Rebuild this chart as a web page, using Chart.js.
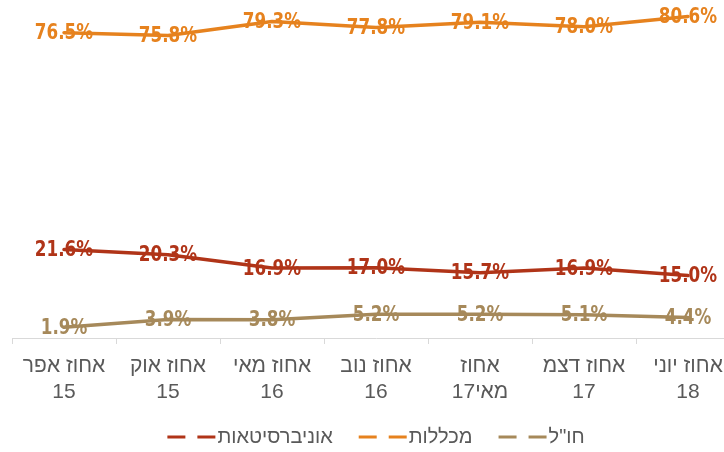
<!DOCTYPE html>
<html lang="he">
<head>
<meta charset="utf-8">
<script src="https://cdn.jsdelivr.net/npm/chart.js@4.4.1/dist/chart.umd.min.js"></script>
<style>
html, body { margin: 0; padding: 0; background: #fff; overflow: hidden; width: 724px; height: 452px; }
canvas { display: block; }
</style>
</head>
<body>
<canvas id="chart" width="744" height="452"></canvas>
<script>
const categories = [
  ['אחוז אפר', '15'],
  ['אחוז אוק', '15'],
  ['אחוז מאי', '16'],
  ['אחוז נוב', '16'],
  ['אחוז', 'מאי17'],
  ['אחוז דצמ', '17'],
  ['אחוז יוני', '18']
];
const seriesNames = ['אוניברסיטאות', 'מכללות', 'חו"ל'];
const universities = [21.6, 20.3, 16.9, 17.0, 15.7, 16.9, 15.0];
const colleges = [76.5, 75.8, 79.3, 77.8, 79.1, 78.0, 80.6];
const abroad = [1.9, 3.9, 3.8, 5.2, 5.2, 5.1, 4.4];
const seriesColors = ['#B03418', '#E6821E', '#A6895A'];

const textGray = '#595959';
const axisGray = '#D9D9D9';

// value labels on top of each point
const valueLabels = {
  id: 'valueLabels',
  afterDatasetsDraw(chart) {
    const ctx = chart.ctx;
    chart.data.datasets.forEach((ds, i) => {
      const meta = chart.getDatasetMeta(i);
      meta.data.forEach((pt, j) => {
        ctx.save();
        ctx.translate(pt.x, pt.y);
        ctx.scale(0.8, 1);
        ctx.font = 'bold 21px "DejaVu Sans"';
        ctx.fillStyle = ds.borderColor;
        ctx.textAlign = 'center';
        ctx.textBaseline = 'middle';
        ctx.fillText(ds.data[j].toFixed(1) + '%', 0, 1);
        ctx.restore();
      });
    });
  }
};

// legend with dashed markers, marker left of text
const dashLegend = {
  id: 'dashLegend',
  afterDraw(chart) {
    const ctx = chart.ctx;
    ctx.save();
    ctx.font = '20px "Liberation Sans"';
    const markW = 48, gapText = 2, gapItem = 26;
    const widths = seriesNames.map(n => ctx.measureText(n).width);
    let total = gapItem * (seriesNames.length - 1);
    widths.forEach(w => total += markW + gapText + w);
    let x = (chart.chartArea.left + chart.chartArea.right) / 2 - total / 2;
    const y = 437;
    seriesNames.forEach((name, i) => {
      ctx.strokeStyle = seriesColors[i];
      ctx.lineWidth = 3;
      ctx.setLineDash([18, 12]);
      ctx.beginPath();
      ctx.moveTo(x, y);
      ctx.lineTo(x + markW, y);
      ctx.stroke();
      ctx.setLineDash([]);
      ctx.fillStyle = textGray;
      ctx.textAlign = 'left';
      ctx.textBaseline = 'middle';
      ctx.fillText(name, x + markW + gapText, y);
      x += markW + gapText + widths[i] + gapItem;
    });
    ctx.restore();
  }
};

function lineSet(label, data, color) {
  return {
    label: label,
    data: data,
    borderColor: color,
    backgroundColor: color,
    borderWidth: 3.5,
    pointRadius: 0,
    tension: 0,
    borderJoinStyle: 'round',
    borderCapStyle: 'round'
  };
}

new Chart(document.getElementById('chart'), {
  type: 'line',
  data: {
    labels: categories,
    datasets: [
      lineSet(seriesNames[0], universities, seriesColors[0]),
      lineSet(seriesNames[1], colleges, seriesColors[1]),
      lineSet(seriesNames[2], abroad, seriesColors[2])
    ]
  },
  options: {
    responsive: false,
    animation: false,
    devicePixelRatio: 1,
    layout: { padding: { left: 12, right: 4, top: 3, bottom: 32 } },
    plugins: {
      legend: { display: false },
      tooltip: { enabled: false }
    },
    scales: {
      x: {
        offset: true,
        grid: { offset: true, drawOnChartArea: false, drawTicks: true, tickLength: 6, color: axisGray, lineWidth: 1 },
        border: { display: true, color: axisGray, width: 1 },
        ticks: {
          color: textGray,
          font: { family: 'Liberation Sans', size: 21, lineHeight: 1.2 },
          padding: 10,
          maxRotation: 0,
          autoSkip: false
        },
        afterFit(scale) { scale.height = 82; }
      },
      y: { display: false, min: -0.8, max: 84 }
    }
  },
  plugins: [valueLabels, dashLegend]
});
</script>
</body>
</html>
